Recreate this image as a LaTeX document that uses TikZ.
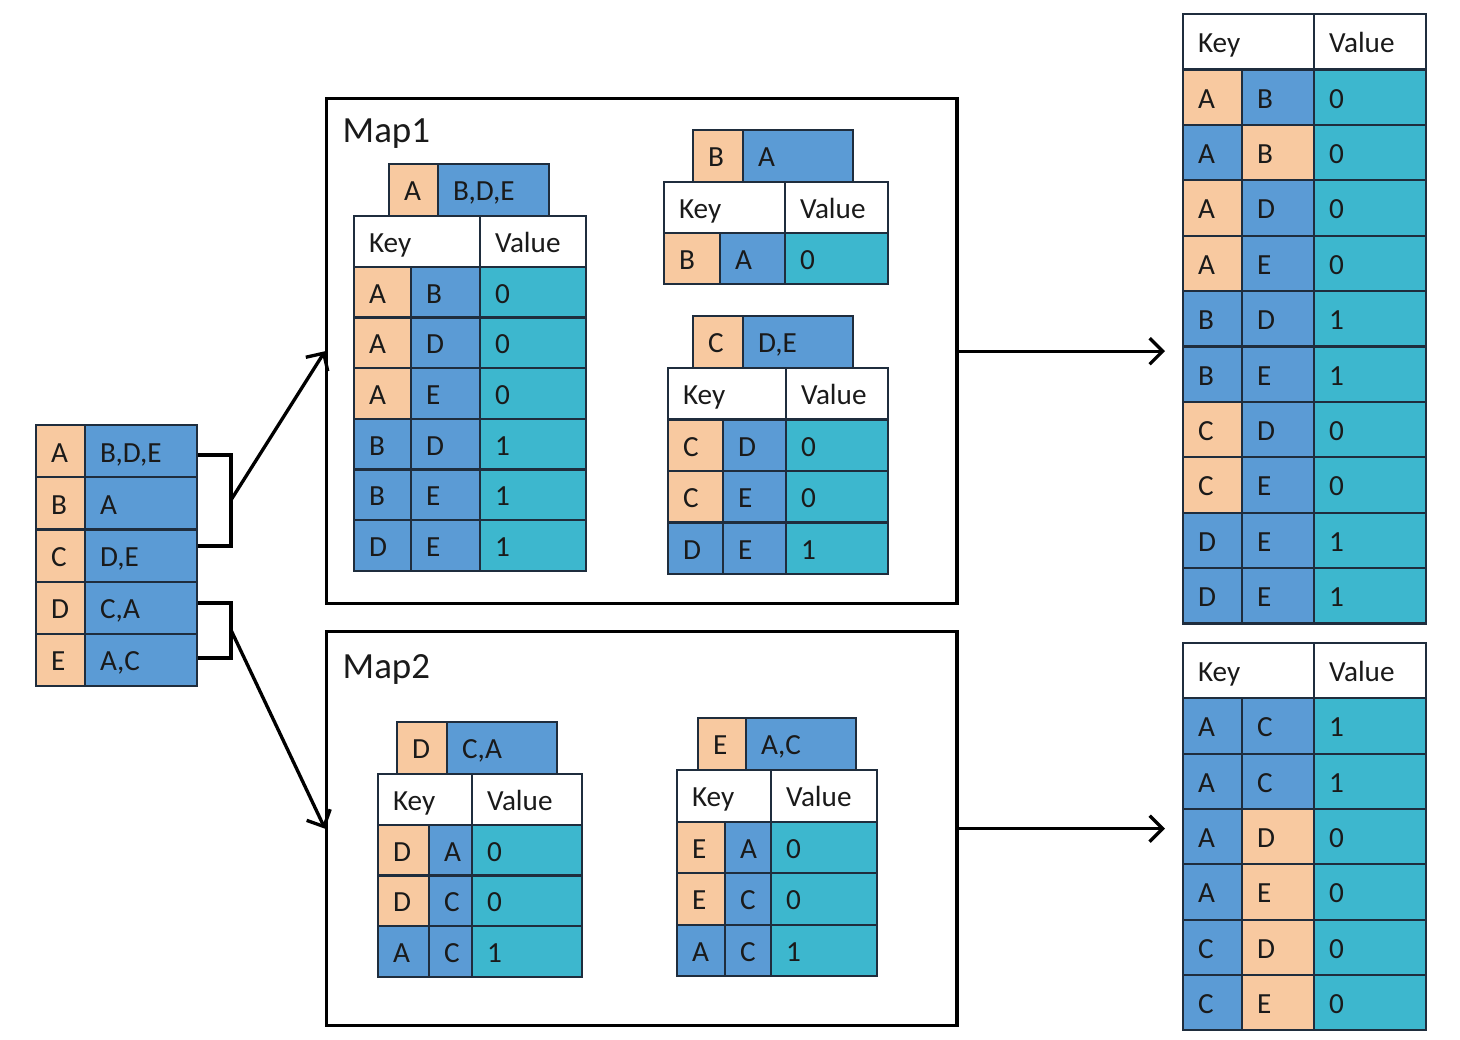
\documentclass[tikz,border=0pt]{standalone}
\usepackage{fontspec}
\setmainfont{Carlito}
\usetikzlibrary{arrows.meta,calc}
\definecolor{tabpeach}{HTML}{F8C9A0}
\definecolor{tabblue}{HTML}{5B9BD5}
\definecolor{tabteal}{HTML}{3DB7CE}
\definecolor{tabline}{HTML}{1F2D3D}
\definecolor{tabink}{HTML}{1A1A1A}

% one cell: name, x, y (top left, px), width, height, style, text
\newcommand{\tcell}[7]{%
  \node[#6, minimum width={(#4)*0.01cm}, minimum height={(#5)*0.01cm},
    text width={(#4)*0.01cm-0.30cm}] (#1) at ({#2},{#3}) {#7};%
}
% columns of the current table are \xa \xb \xc \xd, row height \rh
\newcommand{\kvhead}[2]{%
  \tcell{#1-key}{\xa}{#2}{\xc-\xa}{\rh}{cellbox,fill=white}{Key}
  \tcell{#1-val}{\xc}{#2}{\xd-\xc}{\rh}{cellbox,fill=white}{Value}%
}
\newcommand{\kvrow}[7]{%
  \tcell{#1-a}{\xa}{#2}{\xb-\xa}{\rh}{cellbox,fill=#3}{#4}
  \tcell{#1-b}{\xb}{#2}{\xc-\xb}{\rh}{cellbox,fill=#5}{#6}
  \tcell{#1-c}{\xc}{#2}{\xd-\xc}{\rh}{cellbox,fill=tabteal}{#7}%
}
% record on top of a table: name, x0, x1, x2, top, key, list
\newcommand{\topbox}[7]{%
  \tcell{#1-k}{#2}{#5}{#3-#2}{52}{cellbox,fill=tabpeach}{#6}
  \tcell{#1-l}{#3}{#5}{#4-#3}{52}{cellbox,fill=tabblue}{#7}%
}

\begin{document}
\begin{tikzpicture}[
  x=0.01cm, y=-0.01cm,
  font=\fontsize{8.3}{10}\selectfont,
  cellbox/.style={draw=tabline, line width=0.6pt, anchor=north west,
    inner xsep=0pt, inner ysep=0pt, align=left, text=tabink,
    text height=6.2pt, text depth=0pt},
  mapbox/.style={draw=black, line width=0.9pt, anchor=north west, inner sep=0pt},
  maplabel/.style={anchor=west, inner sep=0pt, font=\fontsize{10.5}{12}\selectfont, text=tabink},
  brace/.style={draw=black, line width=1.1pt},
  flow/.style={draw=black, line width=0.95pt, -{Straight Barb[length=1.3mm,width=2.6mm]}},
]
\useasboundingbox (0,0) rectangle (1460,1040);

% ---- map frames ----
\node[mapbox, minimum width=6.30cm, minimum height=5.05cm] (map1) at (325,97) {};
\node[mapbox, minimum width=6.30cm, minimum height=3.94cm] (map2) at (325,630) {};
\node[maplabel] (map1lbl) at (342,134) {Map1};
\node[maplabel] (map2lbl) at (342,669) {Map2};

% ---- input adjacency list ----
\foreach \k/\v [count=\i] in {A/{B,D,E}, B/A, C/{D,E}, D/{C,A}, E/{A,C}}{
  \tcell{in\i-k}{35}{424+(\i-1)*52.2}{49}{52.2}{cellbox,fill=tabpeach}{\k}
  \tcell{in\i-v}{84}{424+(\i-1)*52.2}{112}{52.2}{cellbox,fill=tabblue}{\v}
}

% brackets and split arrows
\coordinate (brA1) at (198,455);
\coordinate (brA2) at (198,546);
\coordinate (brA)  at (231,500);
\coordinate (brB1) at (198,603);
\coordinate (brB2) at (198,658);
\coordinate (brB)  at (231,630);
\draw[brace] (brA1) -- (brA1 -| brA) -- (brA2 -| brA) -- (brA2);
\draw[brace] (brB1) -- (brB1 -| brB) -- (brB2 -| brB) -- (brB2);
\draw[flow] (brA) -- (map1.west);
\draw[flow] (brB) -- (map2.west);

% ---- Map1 ----
% record A
\def\xa{353}\def\xb{410}\def\xc{479}\def\xd{585}\def\rh{50.7}
\topbox{tA}{388}{437}{548}{163}{A}{B,D,E}
\kvhead{tA}{215}
\foreach \fa/\ka/\fb/\kb/\val [count=\i] in {
  tabpeach/A/tabblue/B/0, tabpeach/A/tabblue/D/0, tabpeach/A/tabblue/E/0,
  tabblue/B/tabblue/D/1, tabblue/B/tabblue/E/1, tabblue/D/tabblue/E/1}{
  \kvrow{tA\i}{215+\i*\rh}{\fa}{\ka}{\fb}{\kb}{\val}
}

% record B
\def\xa{663}\def\xb{719}\def\xc{784}\def\xd{887}\def\rh{51}
\topbox{tB}{692}{742}{852}{129}{B}{A}
\kvhead{tB}{181}
\kvrow{tB1}{181+\rh}{tabpeach}{B}{tabblue}{A}{0}

% record C
\def\xa{667}\def\xb{722}\def\xc{785}\def\xd{887}\def\rh{51.5}
\topbox{tC}{692}{742}{852}{315}{C}{D,E}
\kvhead{tC}{367}
\foreach \fa/\ka/\fb/\kb/\val [count=\i] in {
  tabpeach/C/tabblue/D/0, tabpeach/C/tabblue/E/0, tabblue/D/tabblue/E/1}{
  \kvrow{tC\i}{367+\i*\rh}{\fa}{\ka}{\fb}{\kb}{\val}
}

% ---- Map2 ----
% record D
\def\xa{377}\def\xb{428}\def\xc{471}\def\xd{581}\def\rh{50.7}
\topbox{tD}{396}{446}{556}{721}{D}{C,A}
\kvhead{tD}{773}
\foreach \fa/\ka/\fb/\kb/\val [count=\i] in {
  tabpeach/D/tabblue/A/0, tabpeach/D/tabblue/C/0, tabblue/A/tabblue/C/1}{
  \kvrow{tD\i}{773+\i*\rh}{\fa}{\ka}{\fb}{\kb}{\val}
}

% record E
\def\xa{676}\def\xb{724}\def\xc{770}\def\xd{876}\def\rh{51.5}
\topbox{tE}{697}{745}{855}{717}{E}{A,C}
\kvhead{tE}{769}
\foreach \fa/\ka/\fb/\kb/\val [count=\i] in {
  tabpeach/E/tabblue/A/0, tabpeach/E/tabblue/C/0, tabblue/A/tabblue/C/1}{
  \kvrow{tE\i}{769+\i*\rh}{\fa}{\ka}{\fb}{\kb}{\val}
}

% ---- merged results ----
\def\xa{1182}\def\xb{1241}\def\xc{1313}\def\xd{1425}\def\rh{55.4}
\kvhead{rA}{13}
\foreach \fa/\ka/\fb/\kb/\val [count=\i] in {
  tabpeach/A/tabblue/B/0, tabblue/A/tabpeach/B/0, tabpeach/A/tabblue/D/0,
  tabpeach/A/tabblue/E/0, tabblue/B/tabblue/D/1, tabblue/B/tabblue/E/1,
  tabpeach/C/tabblue/D/0, tabpeach/C/tabblue/E/0, tabblue/D/tabblue/E/1,
  tabblue/D/tabblue/E/1}{
  \kvrow{rA\i}{13+\i*\rh}{\fa}{\ka}{\fb}{\kb}{\val}
}

\def\rh{55.3}
\kvhead{rB}{642}
\foreach \fa/\ka/\fb/\kb/\val [count=\i] in {
  tabblue/A/tabblue/C/1, tabblue/A/tabblue/C/1, tabblue/A/tabpeach/D/0,
  tabblue/A/tabpeach/E/0, tabblue/C/tabpeach/D/0, tabblue/C/tabpeach/E/0}{
  \kvrow{rB\i}{642+\i*\rh}{\fa}{\ka}{\fb}{\kb}{\val}
}

\draw[flow, shorten >=0.17cm] (map1.east) -- (map1.east -| rA-key.west);
\draw[flow, shorten >=0.17cm] (map2.east) -- (map2.east -| rB-key.west);

\end{tikzpicture}
\end{document}
